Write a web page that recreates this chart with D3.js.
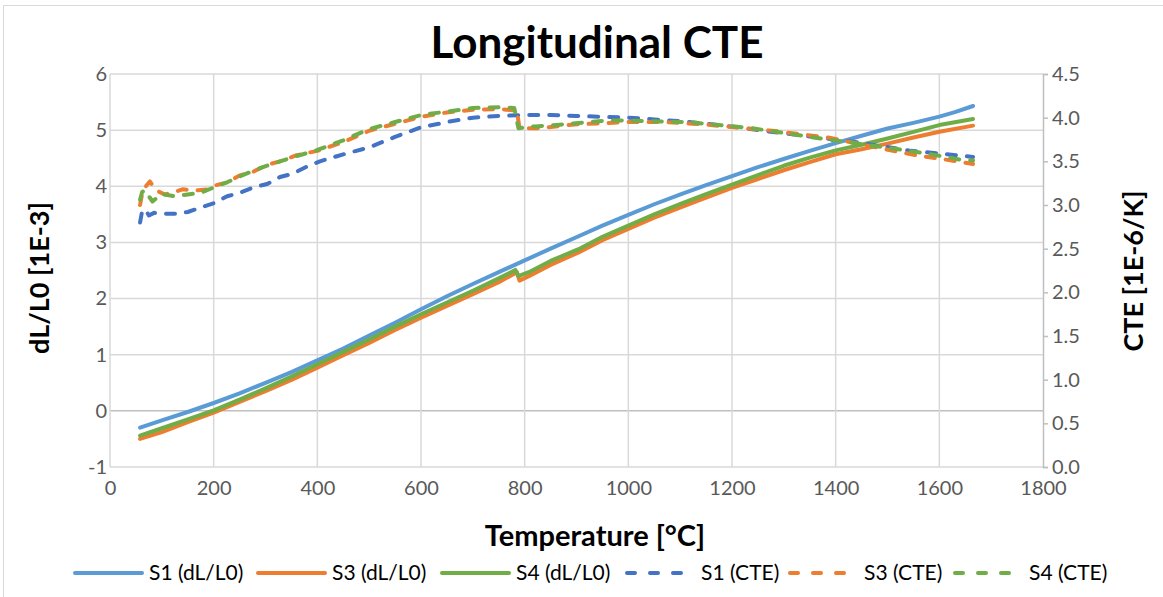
<!DOCTYPE html>
<html>
<head>
<meta charset="utf-8">
<script src="https://cdn.jsdelivr.net/npm/d3@7"></script>
<style>
  body { margin: 0; background: #fff; }
  text { font-family: Lato, "Open Sans", sans-serif; }
</style>
</head>
<body>
<svg id="chart" width="1163" height="597"></svg>
<script>
// Axis ticks
var xTicks = [0, 200, 400, 600, 800, 1000, 1200, 1400, 1600, 1800];
var leftTicks = [-1, 0, 1, 2, 3, 4, 5, 6];
var rightTicks = [0, 0.5, 1, 1.5, 2, 2.5, 3, 3.5, 4, 4.5];

// dL/L0 [1E-3] series, [temperature, value]
var s1DL = [[58,-0.30],[100,-0.17],[150,-0.02],[200,0.14],[250,0.31],[300,0.50],[350,0.69],[400,0.90],[450,1.11],[500,1.34],[550,1.57],[600,1.81],[650,2.04],[700,2.26],[750,2.47],[800,2.68],[850,2.89],[904,3.11],[950,3.30],[1000,3.49],[1050,3.68],[1102,3.86],[1150,4.02],[1200,4.18],[1250,4.34],[1301,4.49],[1350,4.63],[1400,4.77],[1450,4.90],[1500,5.03],[1550,5.13],[1600,5.24],[1630,5.32],[1665,5.43]];
var s3DL = [[58,-0.50],[100,-0.38],[150,-0.20],[200,-0.03],[250,0.16],[300,0.35],[350,0.55],[400,0.77],[450,0.99],[500,1.21],[550,1.44],[600,1.66],[650,1.87],[700,2.08],[750,2.29],[785,2.47],[790,2.32],[808,2.40],[850,2.60],[904,2.82],[950,3.04],[1000,3.24],[1050,3.44],[1102,3.63],[1150,3.80],[1200,3.97],[1250,4.13],[1301,4.29],[1350,4.43],[1400,4.57],[1450,4.66],[1500,4.76],[1550,4.87],[1600,4.97],[1665,5.08]];
var s4DL = [[58,-0.44],[100,-0.31],[150,-0.15],[200,0.01],[250,0.20],[300,0.40],[350,0.61],[400,0.83],[450,1.05],[500,1.27],[550,1.50],[600,1.72],[650,1.93],[700,2.14],[750,2.36],[782,2.51],[788,2.40],[808,2.47],[850,2.67],[904,2.88],[950,3.10],[1000,3.30],[1050,3.50],[1102,3.69],[1150,3.86],[1200,4.03],[1250,4.20],[1301,4.37],[1350,4.51],[1400,4.64],[1450,4.74],[1500,4.85],[1550,4.97],[1600,5.09],[1665,5.20]];

// CTE [1E-6/K] series, [temperature, value]
var s1CTE = [[58,2.80],[62,2.93],[68,2.95],[75,2.88],[85,2.91],[100,2.90],[130,2.90],[150,2.92],[175,2.97],[200,3.02],[226,3.10],[251,3.14],[276,3.20],[303,3.24],[328,3.32],[353,3.36],[380,3.44],[405,3.50],[450,3.58],[500,3.66],[550,3.78],[600,3.89],[650,3.95],[700,4.00],[750,4.02],[800,4.03],[850,4.03],[900,4.02],[1000,4.00],[1050,3.98],[1100,3.96],[1150,3.93],[1210,3.89],[1260,3.85],[1330,3.80],[1440,3.72],[1545,3.62],[1600,3.59],[1665,3.55]];
var s3CTE = [[58,3.00],[62,3.13],[70,3.22],[77,3.27],[85,3.20],[95,3.15],[106,3.12],[125,3.15],[140,3.18],[154,3.17],[170,3.17],[190,3.18],[200,3.22],[226,3.26],[251,3.34],[276,3.38],[303,3.46],[328,3.50],[360,3.57],[400,3.62],[450,3.72],[500,3.85],[550,3.93],[600,4.01],[650,4.06],[700,4.09],[750,4.10],[785,4.08],[790,3.88],[830,3.88],[890,3.92],[1000,3.95],[1070,3.95],[1150,3.92],[1278,3.85],[1388,3.77],[1495,3.64],[1555,3.57],[1612,3.52],[1665,3.47]];
var s4CTE = [[58,3.06],[62,3.15],[68,3.17],[75,3.10],[82,3.04],[88,3.07],[94,3.12],[105,3.12],[125,3.10],[150,3.12],[175,3.14],[200,3.20],[226,3.26],[251,3.33],[276,3.39],[303,3.45],[328,3.50],[360,3.56],[400,3.63],[450,3.74],[500,3.87],[550,3.95],[600,4.03],[650,4.07],[700,4.11],[750,4.12],[780,4.11],[788,3.88],[820,3.90],[868,3.92],[962,3.97],[1114,3.95],[1238,3.88],[1350,3.78],[1460,3.69],[1575,3.59],[1640,3.52],[1665,3.51]];

var seriesNames = ["S1 (dL/L0)", "S3 (dL/L0)", "S4 (dL/L0)", "S1 (CTE)", "S3 (CTE)", "S4 (CTE)"];
var seriesColors = ["#5B9BD5", "#ED7D31", "#70AD47", "#4472C4", "#ED7D31", "#70AD47"];

var svg = d3.select("#chart");

// outer chart border
svg.append("rect")
  .attr("x", 3.5).attr("y", 5.5)
  .attr("width", 1200).attr("height", 700)
  .attr("fill", "none").attr("stroke", "#D9D9D9");

var x = d3.scaleLinear().domain([0, 1800]).range([110, 1043]);
var yL = d3.scaleLinear().domain([-1, 6]).range([467, 74]);
var yR = d3.scaleLinear().domain([0, 4.5]).range([467, 74]);

// gridlines
svg.append("g").selectAll("line.h")
  .data(leftTicks).enter().append("line")
  .attr("x1", x(0)).attr("x2", x(1800))
  .attr("y1", function(d){ return yL(d); })
  .attr("y2", function(d){ return yL(d); })
  .attr("stroke", function(d){ return d === 0 ? "#BFBFBF" : "#D9D9D9"; })
  .attr("stroke-width", 1.5);

svg.append("g").selectAll("line.v")
  .data(xTicks.slice(0, xTicks.length - 1)).enter().append("line")
  .attr("x1", function(d){ return x(d); })
  .attr("x2", function(d){ return x(d); })
  .attr("y1", yL(6)).attr("y2", yL(-1))
  .attr("stroke", "#D9D9D9")
  .attr("stroke-width", 1.5);

// right axis with outward ticks
var rightAxis = svg.append("g")
  .attr("transform", "translate(" + x(1800) + ",0)")
  .call(d3.axisRight(yR).tickValues(rightTicks).tickSize(5).tickFormat(function(d){ return d.toFixed(1); }));
rightAxis.select(".domain").attr("stroke", "#BFBFBF").attr("stroke-width", 1.5);
rightAxis.selectAll(".tick line").attr("stroke", "#BFBFBF").attr("stroke-width", 1.5);
rightAxis.selectAll(".tick text")
  .attr("x", 9)
  .attr("fill", "#595959")
  .style("font-size", "20px");

// left axis labels (plain hyphen for negatives)
var leftAxis = svg.append("g")
  .attr("transform", "translate(" + x(0) + ",0)")
  .call(d3.axisLeft(yL).tickValues(leftTicks).tickSize(0).tickFormat(function(d){ return String(d); }));
leftAxis.select(".domain").remove();
leftAxis.selectAll(".tick text")
  .attr("x", -3)
  .attr("fill", "#595959")
  .style("font-size", "20px");

// bottom axis labels
var bottomAxis = svg.append("g")
  .attr("transform", "translate(0," + yL(-1) + ")")
  .call(d3.axisBottom(x).tickValues(xTicks).tickSize(0).tickFormat(function(d){ return String(d); }));
bottomAxis.select(".domain").remove();
bottomAxis.selectAll(".tick text")
  .attr("y", 28)
  .attr("dy", 0)
  .attr("fill", "#595959")
  .style("font-size", "20px");

// series
var lineL = d3.line()
  .x(function(d){ return x(d[0]); })
  .y(function(d){ return yL(d[1]); });
var lineR = d3.line()
  .x(function(d){ return x(d[0]); })
  .y(function(d){ return yR(d[1]); });

var allSeries = [
  { data: s1DL, line: lineL, dashed: false },
  { data: s3DL, line: lineL, dashed: false },
  { data: s4DL, line: lineL, dashed: false },
  { data: s1CTE, line: lineR, dashed: true },
  { data: s3CTE, line: lineR, dashed: true },
  { data: s4CTE, line: lineR, dashed: true }
];

allSeries.forEach(function(s, i){
  svg.append("path")
    .attr("d", s.line(s.data))
    .attr("fill", "none")
    .attr("stroke", seriesColors[i])
    .attr("stroke-width", 4)
    .attr("stroke-linejoin", "round")
    .attr("stroke-linecap", "round")
    .attr("stroke-dasharray", s.dashed ? "9,11" : null);
});

// titles
svg.append("text")
  .attr("x", 597).attr("y", 58)
  .attr("text-anchor", "middle")
  .attr("font-weight", "bold")
  .style("font-size", "44px")
  .attr("fill", "#000")
  .text("Longitudinal CTE");

svg.append("text")
  .attr("x", 595).attr("y", 546)
  .attr("text-anchor", "middle")
  .attr("font-weight", "bold")
  .style("font-size", "29px")
  .text("Temperature [°C]");

svg.append("text")
  .attr("transform", "translate(49,278) rotate(-90)")
  .attr("text-anchor", "middle")
  .attr("font-weight", "bold")
  .style("font-size", "27px")
  .text("dL/L0 [1E-3]");

svg.append("text")
  .attr("transform", "translate(1143,271) rotate(-90)")
  .attr("text-anchor", "middle")
  .attr("font-weight", "bold")
  .style("font-size", "27px")
  .text("CTE [1E-6/K]");

// legend
var legendX = [75, 258, 442, 627, 790, 955];
var legend = svg.append("g");
seriesNames.forEach(function(name, i){
  legend.append("line")
    .attr("x1", legendX[i]).attr("x2", legendX[i] + 67)
    .attr("y1", 573).attr("y2", 573)
    .attr("stroke", seriesColors[i])
    .attr("stroke-width", 4)
    .attr("stroke-linecap", "round")
    .attr("stroke-dasharray", i >= 3 ? "8,15" : null);
  legend.append("text")
    .attr("x", legendX[i] + 74).attr("y", 580)
    .style("font-size", "21px")
    .attr("fill", "#000")
    .text(name);
});
</script>
</body>
</html>
